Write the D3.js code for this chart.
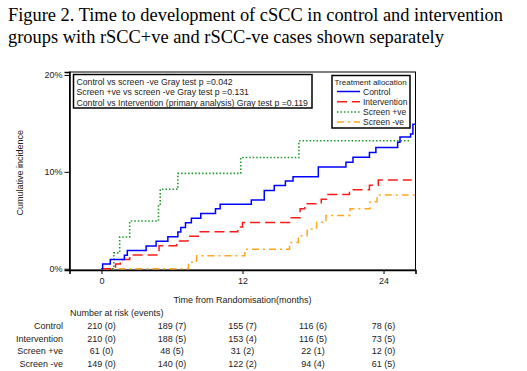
<!DOCTYPE html>
<meta charset="utf-8">
<head>
<script src="https://cdn.jsdelivr.net/npm/d3@7/dist/d3.min.js"></script>
<style>
  body { margin: 0; background: #fff; }
  svg text { font-family: "Liberation Sans", Arial, sans-serif; fill: #222; }
  .title { font-family: "Liberation Serif", "Times New Roman", serif; font-size: 18.4px; fill: #000; }
</style>
</head>
<body>
<svg id="chart"></svg>
<script>

// groups
var groups = ["Control", "Intervention", "Screen +ve", "Screen -ve"];
var colors = ["#0000ff", "#ff1a1a", "#1f9a2a", "#ffa722"];
var dashes = [null, "10,5", "1.5,2", "7,4,2,4"];

// step times (months) and cumulative incidence (%)
var controlTimes = [0.1, 0.75, 1.95, 2.2, 3.8, 4.65, 5.65, 6.5, 6.75, 7.15, 7.65, 8.45, 9.7, 10.1, 12.75, 13.85, 14.7, 15.65, 16.3, 18.45, 20.8, 21.4, 22.8, 23.35, 25.2, 25.4, 26.3, 26.5];
var controlInc   = [0.48, 0.95, 1.4, 1.87, 2.35, 2.83, 3.3, 3.78, 4.26, 4.74, 5.22, 5.7, 6.18, 6.66, 7.1, 8.08, 8.58, 9.05, 9.5, 10.5, 11.0, 11.5, 12.0, 12.5, 13.06, 13.6, 13.9, 14.9];

var interventionTimes = [1.2, 1.6, 2.4, 4.9, 6.4, 7.35, 8.4, 11.6, 12.0, 16.0, 16.9, 17.3, 18.7, 19.2, 21.1, 22.8, 23.55];
var interventionInc   = [0.48, 0.95, 1.43, 2.38, 2.86, 3.34, 3.82, 4.3, 4.78, 5.26, 6.2, 6.7, 7.18, 7.66, 8.14, 8.62, 9.15];

var screenPosTimes = [1.05, 1.55, 2.4, 4.85, 5.0, 6.5, 11.85, 16.8];
var screenPosInc   = [1.64, 3.28, 4.92, 6.56, 8.2, 9.84, 11.48, 13.2];

var screenNegTimes = [7.4, 8.1, 12.2, 16.0, 16.75, 17.5, 18.3, 19.1, 21.15, 22.85, 23.45];
var screenNegInc   = [0.67, 1.34, 2.01, 2.7, 3.4, 4.1, 4.8, 5.5, 6.2, 6.9, 7.6];

var followUpEnd = [26.7, 26.4, 26.3, 26.7];

// number at risk table
var riskTimes = [0, 6, 12, 18, 24];
var controlRisk = [210, 189, 155, 116, 78];
var controlEvents = [0, 7, 7, 6, 6];
var interventionRisk = [210, 188, 153, 116, 73];
var interventionEvents = [0, 5, 4, 5, 5];
var screenPosRisk = [61, 48, 31, 22, 12];
var screenPosEvents = [0, 5, 2, 1, 0];
var screenNegRisk = [149, 140, 122, 94, 61];
var screenNegEvents = [0, 0, 2, 4, 5];

var yTicks = [0, 10, 20];
var xTicks = [0, 12, 24];

var testLines = [
  "Control vs screen -ve Gray test p =0.042",
  "Screen +ve vs screen -ve Gray test p =0.131",
  "Control vs Intervention (primary analysis) Gray test p =0.119"
];

var titleLines = [
  "Figure 2. Time to development of cSCC in control and intervention",
  "groups with rSCC+ve and rSCC-ve cases shown separately"
];

var width = 527, height = 371;

var svg = d3.select("#chart")
  .attr("width", width)
  .attr("height", height);

svg.selectAll(".title")
  .data(titleLines)
  .enter().append("text")
  .attr("class", "title")
  .attr("x", 8)
  .attr("y", function(d, i) { return 21 + i * 22; })
  .text(function(d) { return d; });

var x = d3.scaleLinear().domain([-2.72, 26.72]).range([69.5, 415.5]);
var y = d3.scaleLinear().domain([-0.13, 20.3]).range([270, 72]);

// frame
svg.append("rect")
  .attr("x", x(-2.72)).attr("y", y(20.3))
  .attr("width", x(26.72) - x(-2.72))
  .attr("height", y(-0.13) - y(20.3))
  .attr("fill", "none").attr("stroke", "#000").attr("stroke-width", 1);

svg.append("defs").append("clipPath").attr("id", "clip")
  .append("rect")
  .attr("x", x(-2.72)).attr("y", y(20.3))
  .attr("width", x(26.72) - x(-2.72))
  .attr("height", y(-0.13) - y(20.3));

// axes
var yAxis = svg.append("g")
  .attr("transform", "translate(" + x(-2.72) + ",0)")
  .call(d3.axisLeft(y).tickValues(yTicks).tickFormat(function(d) { return d + "%"; }).tickSize(5).tickPadding(2));
var xAxis = svg.append("g")
  .attr("transform", "translate(0," + y(-0.13) + ")")
  .call(d3.axisBottom(x).tickValues(xTicks).tickSize(4).tickPadding(4));

[yAxis, xAxis].forEach(function(a) {
  a.select(".domain").attr("stroke", "#000").attr("stroke-width", 1.6);
  a.selectAll(".tick line").attr("stroke", "#000").attr("stroke-width", 1);
  a.selectAll("text").style("font-size", "9px").style("font-family", "Liberation Sans, Arial, sans-serif").attr("fill", "#222");
});

svg.append("text")
  .attr("transform", "translate(23," + y(9.9) + ") rotate(-90)")
  .attr("text-anchor", "middle")
  .style("font-size", "9px")
  .text("Cumulative incidence");

svg.append("text")
  .attr("x", x(12))
  .attr("y", 303)
  .attr("text-anchor", "middle")
  .style("font-size", "9px")
  .text("Time from Randomisation(months)");

// curves
var series = [
  {times: controlTimes, inc: controlInc},
  {times: interventionTimes, inc: interventionInc},
  {times: screenPosTimes, inc: screenPosInc},
  {times: screenNegTimes, inc: screenNegInc}
];

var line = d3.line()
  .x(function(d) { return x(d[0]); })
  .y(function(d) { return y(d[1]); })
  .curve(d3.curveStepAfter);

var curves = svg.append("g").attr("clip-path", "url(#clip)");

// draw order: screen -ve, screen +ve, intervention, control on top
[3, 2, 1, 0].forEach(function(k) {
  var s = series[k];
  var pts = [[0, 0]];
  s.times.forEach(function(t, i) { pts.push([t, s.inc[i]]); });
  pts.push([followUpEnd[k], s.inc[s.inc.length - 1]]);
  curves.append("path")
    .datum(pts)
    .attr("d", line)
    .attr("fill", "none")
    .attr("stroke", colors[k])
    .attr("stroke-width", k == 2 ? 1.6 : 1.5)
    .attr("stroke-dasharray", dashes[k]);
});

// test results box
var tb = svg.append("g");
tb.append("rect")
  .attr("x", 73.5).attr("y", 74.5).attr("width", 238.5).attr("height", 33.5)
  .attr("fill", "#fff").attr("stroke", "#000").attr("stroke-width", 1.5);
tb.selectAll("text")
  .data(testLines)
  .enter().append("text")
  .attr("x", 76.5)
  .attr("y", function(d, i) { return 84.5 + i * 10.8; })
  .style("font-size", "8.7px")
  .text(function(d) { return d; });

// legend
var lg = svg.append("g");
lg.append("rect")
  .attr("x", 332).attr("y", 75.5).attr("width", 78).attr("height", 52.5)
  .attr("fill", "#fff").attr("stroke", "#000").attr("stroke-width", 1.5);
lg.append("text")
  .attr("x", 334.5).attr("y", 84.5)
  .style("font-size", "8px")
  .text("Treatment allocation");
groups.forEach(function(g, i) {
  var yy = 91.5 + i * 10.2;
  lg.append("line")
    .attr("x1", 337).attr("x2", 360)
    .attr("y1", yy).attr("y2", yy)
    .attr("stroke", colors[i]).attr("stroke-width", 1.5)
    .attr("stroke-dasharray", dashes[i]);
  lg.append("text")
    .attr("x", 363).attr("y", yy + 3)
    .style("font-size", "8.5px")
    .text(g);
});

// number at risk table
svg.append("text")
  .attr("x", 70).attr("y", 316)
  .style("font-size", "9px")
  .text("Number at risk (events)");

var riskRows = [
  {risk: controlRisk, ev: controlEvents},
  {risk: interventionRisk, ev: interventionEvents},
  {risk: screenPosRisk, ev: screenPosEvents},
  {risk: screenNegRisk, ev: screenNegEvents}
];

riskRows.forEach(function(r, i) {
  var yy = 329 + i * 12.6;
  svg.append("text")
    .attr("x", 63).attr("y", yy)
    .attr("text-anchor", "end")
    .style("font-size", "9px")
    .text(groups[i]);
  riskTimes.forEach(function(t, j) {
    svg.append("text")
      .attr("x", x(t))
      .attr("y", yy)
      .attr("text-anchor", "middle")
      .style("font-size", "9px")
      .text(r.risk[j] + " (" + r.ev[j] + ")");
  });
});

</script>
</body>
